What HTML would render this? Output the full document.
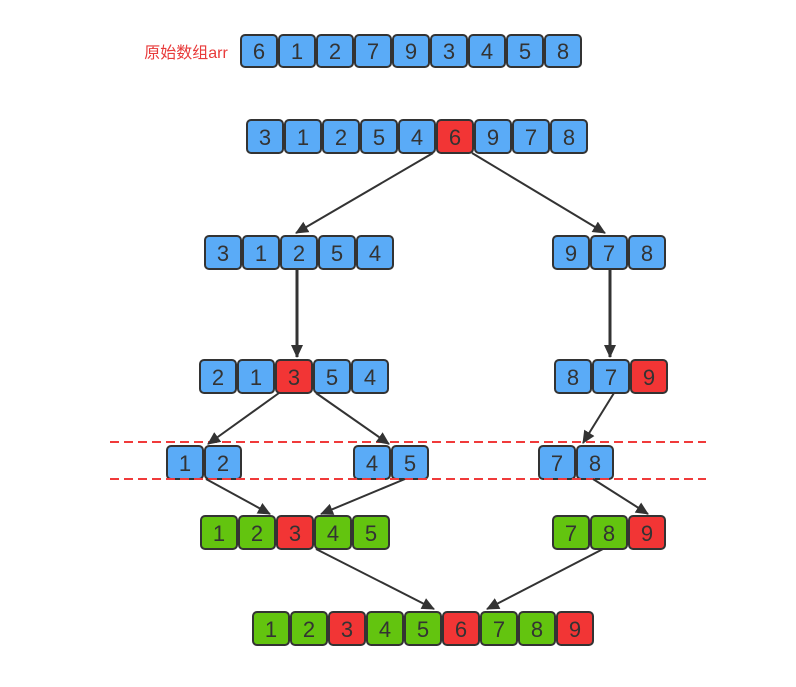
<!DOCTYPE html>
<html><head><meta charset="utf-8"><style>
html,body{margin:0;padding:0;background:#fff;width:796px;height:687px;overflow:hidden}
svg text{font-family:"Liberation Sans","DejaVu Sans",sans-serif;font-size:22px;fill:#333;text-anchor:middle}
.b{fill:#5aabf7;stroke:#333;stroke-width:2}
.r{fill:#f23535;stroke:#333;stroke-width:2}
.g{fill:#63c40f;stroke:#333;stroke-width:2}
.l{stroke:#333;stroke-width:2;fill:none}
</style></head><body>
<svg width="796" height="687" viewBox="0 0 796 687" xmlns="http://www.w3.org/2000/svg">
<defs><marker id="a2" markerWidth="14" markerHeight="14" refX="12" refY="7" orient="auto" markerUnits="userSpaceOnUse"><path d="M0,1 L13,7 L0,13 z" fill="#333"/></marker></defs>
<text x="186" y="58" style="font-family:'Liberation Sans','Noto Sans CJK SC',sans-serif;font-size:16px;fill:#e83a3a">原始数组arr</text>

<g>
<rect class="b" x="241" y="35" width="36" height="32" rx="4"/><text x="259" y="59">6</text>
<rect class="b" x="279" y="35" width="36" height="32" rx="4"/><text x="297" y="59">1</text>
<rect class="b" x="317" y="35" width="36" height="32" rx="4"/><text x="335" y="59">2</text>
<rect class="b" x="355" y="35" width="36" height="32" rx="4"/><text x="373" y="59">7</text>
<rect class="b" x="393" y="35" width="36" height="32" rx="4"/><text x="411" y="59">9</text>
<rect class="b" x="431" y="35" width="36" height="32" rx="4"/><text x="449" y="59">3</text>
<rect class="b" x="469" y="35" width="36" height="32" rx="4"/><text x="487" y="59">4</text>
<rect class="b" x="507" y="35" width="36" height="32" rx="4"/><text x="525" y="59">5</text>
<rect class="b" x="545" y="35" width="36" height="32" rx="4"/><text x="563" y="59">8</text>
</g>
<g>
<rect class="b" x="247" y="120" width="36" height="33" rx="4"/><text x="265" y="145">3</text>
<rect class="b" x="285" y="120" width="36" height="33" rx="4"/><text x="303" y="145">1</text>
<rect class="b" x="323" y="120" width="36" height="33" rx="4"/><text x="341" y="145">2</text>
<rect class="b" x="361" y="120" width="36" height="33" rx="4"/><text x="379" y="145">5</text>
<rect class="b" x="399" y="120" width="36" height="33" rx="4"/><text x="417" y="145">4</text>
<rect class="r" x="437" y="120" width="36" height="33" rx="4"/><text x="455" y="145">6</text>
<rect class="b" x="475" y="120" width="36" height="33" rx="4"/><text x="493" y="145">9</text>
<rect class="b" x="513" y="120" width="36" height="33" rx="4"/><text x="531" y="145">7</text>
<rect class="b" x="551" y="120" width="36" height="33" rx="4"/><text x="569" y="145">8</text>
</g>
<g>
<rect class="b" x="205" y="236" width="36" height="33" rx="4"/><text x="223" y="261">3</text>
<rect class="b" x="243" y="236" width="36" height="33" rx="4"/><text x="261" y="261">1</text>
<rect class="b" x="281" y="236" width="36" height="33" rx="4"/><text x="299" y="261">2</text>
<rect class="b" x="319" y="236" width="36" height="33" rx="4"/><text x="337" y="261">5</text>
<rect class="b" x="357" y="236" width="36" height="33" rx="4"/><text x="375" y="261">4</text>
<rect class="b" x="553" y="236" width="36" height="33" rx="4"/><text x="571" y="261">9</text>
<rect class="b" x="591" y="236" width="36" height="33" rx="4"/><text x="609" y="261">7</text>
<rect class="b" x="629" y="236" width="36" height="33" rx="4"/><text x="647" y="261">8</text>
</g>
<g>
<rect class="b" x="200" y="360" width="36" height="33" rx="4"/><text x="218" y="385">2</text>
<rect class="b" x="238" y="360" width="36" height="33" rx="4"/><text x="256" y="385">1</text>
<rect class="r" x="276" y="360" width="36" height="33" rx="4"/><text x="294" y="385">3</text>
<rect class="b" x="314" y="360" width="36" height="33" rx="4"/><text x="332" y="385">5</text>
<rect class="b" x="352" y="360" width="36" height="33" rx="4"/><text x="370" y="385">4</text>
<rect class="b" x="555" y="360" width="36" height="33" rx="4"/><text x="573" y="385">8</text>
<rect class="b" x="593" y="360" width="36" height="33" rx="4"/><text x="611" y="385">7</text>
<rect class="r" x="631" y="360" width="36" height="33" rx="4"/><text x="649" y="385">9</text>
</g>
<g>
<rect class="b" x="167" y="446" width="36" height="33" rx="4"/><text x="185" y="471">1</text>
<rect class="b" x="205" y="446" width="36" height="33" rx="4"/><text x="223" y="471">2</text>
<rect class="b" x="354" y="446" width="36" height="33" rx="4"/><text x="372" y="471">4</text>
<rect class="b" x="392" y="446" width="36" height="33" rx="4"/><text x="410" y="471">5</text>
<rect class="b" x="539" y="446" width="36" height="33" rx="4"/><text x="557" y="471">7</text>
<rect class="b" x="577" y="446" width="36" height="33" rx="4"/><text x="595" y="471">8</text>
</g>
<g>
<rect class="g" x="201" y="516" width="36" height="33" rx="4"/><text x="219" y="541">1</text>
<rect class="g" x="239" y="516" width="36" height="33" rx="4"/><text x="257" y="541">2</text>
<rect class="r" x="277" y="516" width="36" height="33" rx="4"/><text x="295" y="541">3</text>
<rect class="g" x="315" y="516" width="36" height="33" rx="4"/><text x="333" y="541">4</text>
<rect class="g" x="353" y="516" width="36" height="33" rx="4"/><text x="371" y="541">5</text>
<rect class="g" x="553" y="516" width="36" height="33" rx="4"/><text x="571" y="541">7</text>
<rect class="g" x="591" y="516" width="36" height="33" rx="4"/><text x="609" y="541">8</text>
<rect class="r" x="629" y="516" width="36" height="33" rx="4"/><text x="647" y="541">9</text>
</g>
<g>
<rect class="g" x="253" y="612" width="36" height="33" rx="4"/><text x="271" y="637">1</text>
<rect class="g" x="291" y="612" width="36" height="33" rx="4"/><text x="309" y="637">2</text>
<rect class="r" x="329" y="612" width="36" height="33" rx="4"/><text x="347" y="637">3</text>
<rect class="g" x="367" y="612" width="36" height="33" rx="4"/><text x="385" y="637">4</text>
<rect class="g" x="405" y="612" width="36" height="33" rx="4"/><text x="423" y="637">5</text>
<rect class="r" x="443" y="612" width="36" height="33" rx="4"/><text x="461" y="637">6</text>
<rect class="g" x="481" y="612" width="36" height="33" rx="4"/><text x="499" y="637">7</text>
<rect class="g" x="519" y="612" width="36" height="33" rx="4"/><text x="537" y="637">8</text>
<rect class="r" x="557" y="612" width="36" height="33" rx="4"/><text x="575" y="637">9</text>
</g>

<line x1="110" y1="442" x2="706" y2="442" stroke="#f03a3a" stroke-width="2" stroke-dasharray="9,5"/>
<line x1="110" y1="479" x2="706" y2="479" stroke="#f03a3a" stroke-width="2" stroke-dasharray="9,5"/>

<g class="l" marker-end="url(#a2)">
<line x1="433" y1="153" x2="296" y2="233"/>
<line x1="472" y1="153" x2="605" y2="233"/>
<line x1="297" y1="270" x2="297" y2="357" stroke-width="3"/>
<line x1="610" y1="270" x2="610" y2="357" stroke-width="3"/>
<line x1="279" y1="393" x2="208" y2="444"/>
<line x1="316" y1="393" x2="389" y2="444"/>
<line x1="614" y1="393" x2="583" y2="443"/>
<line x1="206" y1="479" x2="270" y2="514"/>
<line x1="405" y1="479" x2="321" y2="514"/>
<line x1="593" y1="479" x2="648" y2="514"/>
<line x1="316" y1="549" x2="434" y2="609"/>
<line x1="603" y1="549" x2="487" y2="609"/>
</g>
</svg>
</body></html>
